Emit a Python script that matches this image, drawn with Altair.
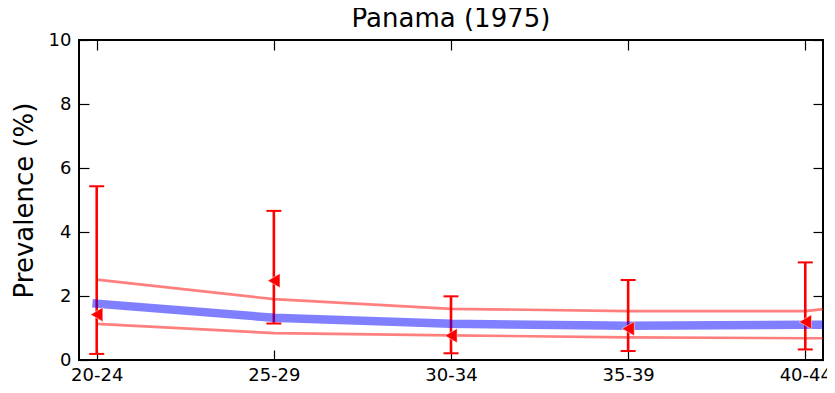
import json
import altair as alt
import pandas as pd

# ---- data ----
age_groups = ["20-24", "25-29", "30-34", "35-39", "40-44"]
group_index = [0, 1, 2, 3, 4]

# model curves (last point lies beyond the plotted range and is clipped)
line_index = [0, 1, 2, 3, 4, 5]
model_mid = [1.76, 1.32, 1.13, 1.07, 1.10, 1.10]
model_upper = [2.51, 1.90, 1.60, 1.53, 1.53, 2.10]
model_lower = [1.13, 0.84, 0.77, 0.71, 0.68, 0.67]

# observed data with error bars
obs_value = [1.42, 2.48, 0.76, 0.98, 1.19]
obs_high = [5.43, 4.66, 1.99, 2.50, 3.05]
obs_low = [0.19, 1.14, 0.21, 0.28, 0.33]

y_ticks = [0, 2, 4, 6, 8, 10]

lines = pd.DataFrame({"i": line_index, "mid": model_mid,
                      "upper": model_upper, "lower": model_lower})
obs = pd.DataFrame({"i": group_index, "v": obs_value,
                    "hi": obs_high, "lo": obs_low})

W, H = 744, 320
FONT = "DejaVu Sans"

xs = alt.Scale(domain=[-0.1, 4.1], nice=False, zero=False)
ys = alt.Scale(domain=[0, 10], nice=False, zero=True)

label_expr = json.dumps(age_groups) + "[datum.value]"

ax_x_main = alt.Axis(orient="bottom", values=group_index, labelExpr=label_expr,
                     ticks=False, tickSize=0, domain=False, grid=False, title=None,
                     labelFontSize=18, labelFont=FONT, labelColor="black",
                     labelBaseline="alphabetic", labelPadding=20, labelFlush=False)
ax_y_main = alt.Axis(orient="left", values=y_ticks, ticks=False, tickSize=0,
                     domain=False, grid=False, title="Prevalence (%)",
                     labelFontSize=18, labelFont=FONT, labelColor="black",
                     labelPadding=8, labelBaseline="middle",
                     titleFontSize=26, titleFont=FONT, titleFontWeight="normal",
                     titleColor="black", titleAngle=270, titleBaseline="alphabetic",
                     titleAlign="center", titleX=-47, titleY=H / 2)
tick_style = dict(labels=False, ticks=True, tickSize=10, tickWidth=1.2,
                  tickColor="black", domain=False, grid=False, title=None)
ax_x_in_bottom = alt.Axis(orient="top", offset=-H, values=group_index, **tick_style)
ax_x_in_top = alt.Axis(orient="bottom", offset=-H, values=group_index, **tick_style)
ax_y_in_left = alt.Axis(orient="right", offset=-W, values=y_ticks, **tick_style)
ax_y_in_right = alt.Axis(orient="left", offset=-W, values=y_ticks, **tick_style)

err = alt.Chart(obs).mark_rule(color="red", strokeWidth=2.6).encode(
    x=alt.X("i:Q", scale=xs, axis=None),
    y=alt.Y("lo:Q", scale=ys, axis=None),
    y2="hi:Q",
)
cap_hi = alt.Chart(obs).mark_tick(color="red", orient="horizontal", size=15,
                                  thickness=2, opacity=1).encode(
    x=alt.X("i:Q", scale=xs, axis=None),
    y=alt.Y("hi:Q", scale=ys, axis=None),
)
cap_lo = alt.Chart(obs).mark_tick(color="red", orient="horizontal", size=15,
                                  thickness=2, opacity=1).encode(
    x=alt.X("i:Q", scale=xs, axis=None),
    y=alt.Y("lo:Q", scale=ys, axis=None),
)
upper = alt.Chart(lines).mark_line(color="red", strokeOpacity=0.5, strokeWidth=2.7,
                                   clip=True).encode(
    x=alt.X("i:Q", scale=xs, axis=ax_x_main),
    y=alt.Y("upper:Q", scale=ys, axis=ax_y_main),
)
lower = alt.Chart(lines).mark_line(color="red", strokeOpacity=0.5, strokeWidth=2.7,
                                   clip=True).encode(
    x=alt.X("i:Q", scale=xs, axis=ax_x_in_bottom),
    y=alt.Y("lower:Q", scale=ys, axis=ax_y_in_left),
)
mid = alt.Chart(lines).mark_line(color="blue", strokeOpacity=0.5, strokeWidth=8.5,
                                 strokeCap="square", clip=True).encode(
    x=alt.X("i:Q", scale=xs, axis=ax_x_in_top),
    y=alt.Y("mid:Q", scale=ys, axis=ax_y_in_right),
)
pts = alt.Chart(obs).mark_point(shape="triangle-left", filled=True, fill="red",
                                stroke="white", strokeWidth=0.5, size=200,
                                opacity=1).encode(
    x=alt.X("i:Q", scale=xs, axis=None),
    y=alt.Y("v:Q", scale=ys, axis=None),
)

chart = alt.layer(err, cap_hi, cap_lo, upper, lower, mid, pts).resolve_axis(
    x="independent", y="independent"
).properties(
    width=W, height=H,
    title=alt.Title("Panama (1975)", fontSize=26, font=FONT, fontWeight="normal",
                    color="black", anchor="middle", offset=0, dy=1),
    autosize=alt.AutoSizeParams(type="none"),
    padding={"left": 71, "top": 32, "right": 4, "bottom": 25},
).configure(
    font=FONT, background="white"
).configure_view(
    stroke="black", strokeWidth=2
)

chart.save("out.html", embed_options={"renderer": "svg", "actions": False})
